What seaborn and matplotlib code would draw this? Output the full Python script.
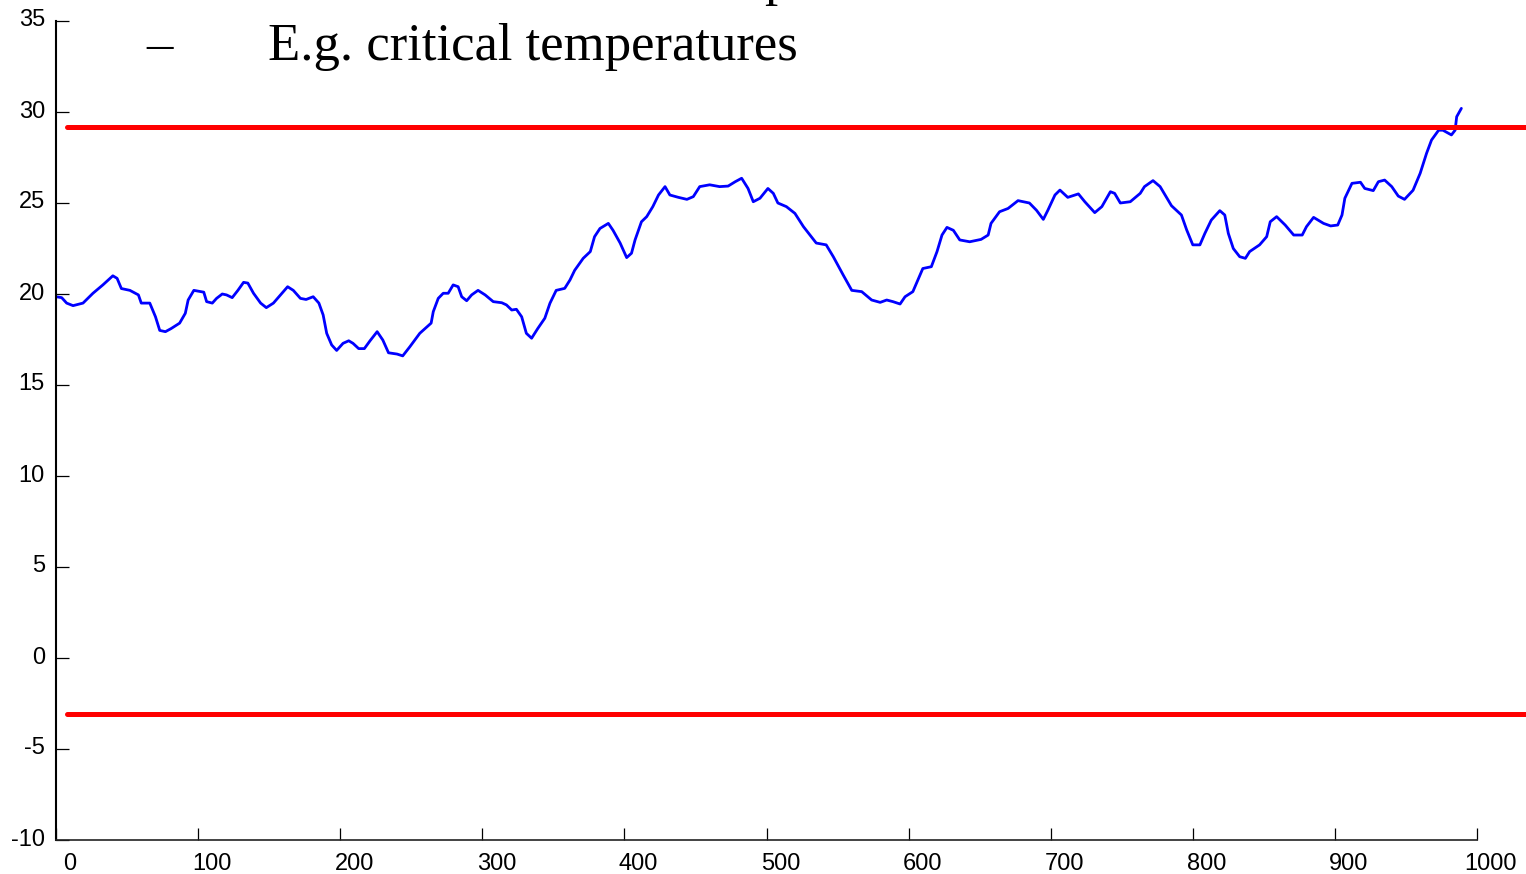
import matplotlib
matplotlib.use("Agg")
import matplotlib.pyplot as plt
from matplotlib.transforms import ScaledTranslation
import pandas as pd
import seaborn as sns

# Simulated temperature series (time step vs. temperature)
t = [0, 4, 7.5, 12, 19, 26, 33, 40, 43, 46, 52, 58, 60, 66, 70, 73, 77, 81, 87, 91,
     93, 97, 104, 106, 110, 113, 117, 120, 124, 128, 132, 135, 139, 144, 148, 153, 158,
     163, 167, 172, 176, 181, 185, 188, 190.5, 194, 197.5, 202, 206, 209, 213, 217, 221,
     226, 230, 234, 240, 244, 249, 256, 264, 265.5, 269, 272.5, 276, 279.5, 283, 285.5,
     289, 292.5, 297, 302, 307.7, 313.7, 317, 320.7, 324, 327.7, 331, 334.7, 339, 344,
     347.6, 352, 358, 361.7, 365, 371, 376, 379, 382.8, 388.7, 392, 397, 401.6, 405,
     407.5, 412, 415.7, 420, 424, 428.6, 432, 438, 444, 448.5, 453, 460, 467, 473, 478,
     482.5, 487, 490.7, 495.4, 501, 504.8, 508, 514, 520, 526, 535, 542, 547, 554, 560,
     567, 574, 580, 584.6, 589, 594, 597.5, 603, 607, 610, 616, 620, 623.5, 627, 631.5,
     636, 643, 651, 656, 658, 664, 670, 677, 685, 690, 694.8, 698, 703, 706.5, 712,
     719.5, 724, 731, 736, 742, 745, 749, 756, 763, 766, 772, 777, 785, 792, 795.7, 800,
     805, 808.5, 813, 819, 822.5, 825, 828.5, 833, 837, 840, 847, 852, 854.5, 859, 865,
     871, 877, 880, 885, 892, 897, 902, 905, 907, 912, 918, 921, 927, 930.6, 935, 940,
     944.6, 949, 955, 960, 964.5, 968, 973, 976, 982, 984.6, 985.7, 989]
temp = [19.85, 19.8, 19.5, 19.36, 19.5, 20.04, 20.5, 21.0, 20.86, 20.3, 20.2, 19.95, 19.5,
        19.5, 18.75, 18.0, 17.93, 18.1, 18.4, 18.94, 19.67, 20.2, 20.1, 19.58, 19.5, 19.76,
        20.0, 19.95, 19.8, 20.2, 20.64, 20.6, 20.04, 19.5, 19.25, 19.5, 19.95, 20.4, 20.2,
        19.76, 19.7, 19.85, 19.5, 18.85, 17.84, 17.2, 16.9, 17.29, 17.43, 17.29, 17.0, 17.0,
        17.43, 17.93, 17.47, 16.77, 16.7, 16.6, 17.1, 17.84, 18.4, 19.03, 19.76, 20.04,
        20.04, 20.5, 20.4, 19.85, 19.63, 19.95, 20.2, 19.95, 19.58, 19.52, 19.4, 19.12,
        19.16, 18.75, 17.84, 17.57, 18.1, 18.67, 19.49, 20.2, 20.31, 20.77, 21.3, 21.96,
        22.33, 23.15, 23.6, 23.88, 23.5, 22.8, 22.0, 22.24, 22.97, 23.97, 24.25, 24.8,
        25.44, 25.9, 25.44, 25.31, 25.2, 25.35, 25.9, 26.0, 25.9, 25.93, 26.17, 26.36, 25.8,
        25.07, 25.26, 25.8, 25.53, 25.0, 24.8, 24.43, 23.7, 22.8, 22.7, 22.05, 21.04, 20.2,
        20.13, 19.67, 19.54, 19.67, 19.58, 19.45, 19.85, 20.13, 20.86, 21.4, 21.5, 22.33,
        23.24, 23.66, 23.5, 22.97, 22.87, 23.0, 23.24, 23.88, 24.52, 24.7, 25.13, 25.0,
        24.6, 24.1, 24.6, 25.44, 25.71, 25.31, 25.5, 25.07, 24.47, 24.8, 25.62, 25.53,
        25.0, 25.07, 25.53, 25.9, 26.23, 25.9, 24.85, 24.34, 23.52, 22.7, 22.7, 23.33,
        24.06, 24.58, 24.34, 23.33, 22.5, 22.05, 21.96, 22.33, 22.7, 23.15, 23.97, 24.25,
        23.79, 23.24, 23.24, 23.7, 24.21, 23.88, 23.74, 23.79, 24.34, 25.26, 26.08, 26.14,
        25.8, 25.68, 26.17, 26.26, 25.9, 25.38, 25.2, 25.7, 26.63, 27.73, 28.46, 29.0,
        29.0, 28.74, 29.0, 29.74, 30.2]

# Critical temperature thresholds and the time span they are drawn over
upper_limit = 29.2
lower_limit = -3.1
limit_span = [8, 1040]

x_ticks = list(range(0, 1001, 100))
y_ticks = list(range(-10, 36, 5))

sns.set_theme(style="white")
plt.rcParams["font.family"] = ["Liberation Sans", "DejaVu Sans"]
plt.rcParams["axes.unicode_minus"] = False

W, H = 1526, 874
fig = plt.figure(figsize=(W / 100, H / 100), dpi=100)
ax = fig.add_axes([56 / W, 34 / H, 1421 / W, 819 / H])

series = pd.DataFrame({"t": t, "temp": temp})
sns.lineplot(data=series, x="t", y="temp", ax=ax, color="#0000ff",
             linewidth=2.0, estimator=None, sort=False)
for level in (upper_limit, lower_limit):
    sns.lineplot(x=limit_span, y=[level, level], ax=ax, color="#ff0000",
                 linewidth=3.6, clip_on=False, zorder=3)

ax.set_xlim(0, 1000)
ax.set_ylim(-10, 35)
ax.set_xticks(x_ticks)
ax.set_yticks(y_ticks)
ax.set_xlabel("")
ax.set_ylabel("")

for side in ("top", "right"):
    ax.spines[side].set_visible(False)
ax.spines["left"].set_color("black")
ax.spines["left"].set_linewidth(1.5)
ax.spines["bottom"].set_color("#222222")
ax.spines["bottom"].set_linewidth(1.2)

ax.tick_params(axis="both", direction="in", length=9, width=0.9, color="black",
               labelsize=17, labelcolor="black", bottom=True, left=True)
ax.tick_params(axis="x", pad=9.5)
ax.tick_params(axis="y", pad=8)

# Nudge tick labels slightly (x labels sit to the right of their ticks)
for lab in ax.get_xticklabels():
    lab.set_transform(lab.get_transform() + ScaledTranslation(0.14, 0, fig.dpi_scale_trans))
for lab in ax.get_yticklabels():
    lab.set_transform(lab.get_transform() + ScaledTranslation(0, 0.03, fig.dpi_scale_trans))

# Slide text overlapping the top of the chart
serif = ["Liberation Serif", "DejaVu Serif"]
fig.text(764 / W, 1 + 4.5 / H, "p", family=serif, size=38, color="black",
         va="baseline", ha="left")
fig.text(146 / W, 1 - 60 / H, "\u2013", family=serif, size=38, color="black",
         va="baseline", ha="left")
fig.text(268 / W, 1 - 60 / H, "E.g. critical temperatures", family=serif, size=38,
         color="black", va="baseline", ha="left")

fig.savefig("out.png", dpi=100)
